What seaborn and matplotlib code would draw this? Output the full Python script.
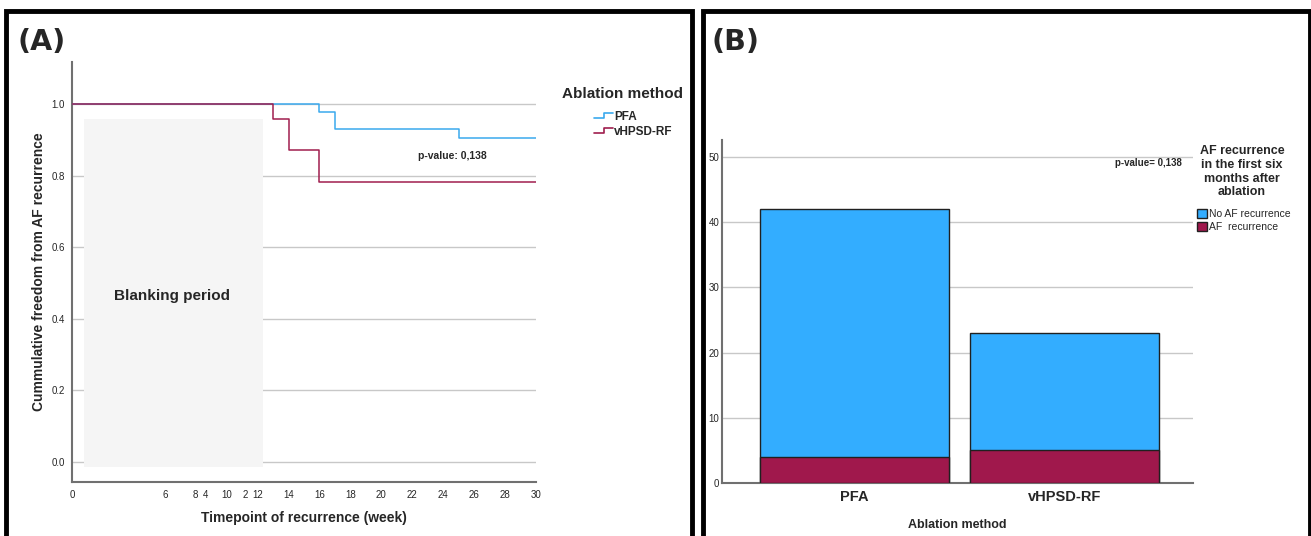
import matplotlib

matplotlib.use("Agg")

import matplotlib.pyplot as plt
import pandas as pd
import seaborn as sns
from matplotlib.legend_handler import HandlerBase
from matplotlib.lines import Line2D
from matplotlib.patches import Patch, Rectangle

# Panel A: Kaplan-Meier style freedom from AF recurrence
PFA_WEEKS = [0, 16, 17, 25, 30]
PFA_SURV = [1.0, 0.976, 0.929, 0.905, 0.905]
RF_WEEKS = [0, 13, 14, 16, 30]
RF_SURV = [1.0, 0.957, 0.870, 0.783, 0.783]
X_TICKS = [0, 6, 8, 8.6, 10, 11.2, 12, 14, 16, 18, 20, 22, 24, 26, 28, 30]
X_TICK_LABELS = ["0", "6", "8", "4", "10", "2", "12", "14", "16", "18",
                 "20", "22", "24", "26", "28", "30"]
Y_TICKS = [0.0, 0.2, 0.4, 0.6, 0.8, 1.0]

# Panel B: counts per ablation method
METHODS = ["PFA", "vHPSD-RF"]
NO_RECURRENCE = [38, 18]
RECURRENCE = [4, 5]
B_TICKS = [0, 10, 20, 30, 40, 50]

BLUE_LINE = "#3aa9ee"
RED_LINE = "#a01e4e"
BLUE_BAR = "#33adff"
RED_BAR = "#a0184c"
GRID = "#c8c8c8"
SPINE = "#707070"

sns.set_style("white")
plt.rcParams["font.family"] = ["Liberation Sans", "DejaVu Sans"]

W, H = 1311, 536


class StepHandler(HandlerBase):
    def create_artists(self, legend, orig_handle, xdescent, ydescent,
                       width, height, fontsize, trans):
        x0, w, h = -xdescent, width, height
        line = Line2D(
            [x0, x0 + w * 0.55, x0 + w * 0.55, x0 + w],
            [h * 0.2, h * 0.2, h * 0.85, h * 0.85],
            color=orig_handle.get_color(), lw=1.2,
        )
        line.set_transform(trans)
        return [line]


def fx(px):
    return px / W


def fy(py):
    return 1 - py / H


fig = plt.figure(figsize=(W / 100, H / 100), dpi=100)

# panel frames
for x0, x1 in [(6, 692), (703, 1310)]:
    fig.patches.append(Rectangle(
        (fx(x0), -0.05), fx(x1 - x0), 1.05 - 11 / H,
        transform=fig.transFigure, fill=False, lw=3.5, edgecolor="black",
    ))

# ---------------- Panel A ----------------
ax1 = fig.add_axes([fx(72), fy(482), fx(536 - 72), (482 - 62) / H])
km = pd.concat([
    pd.DataFrame({"week": PFA_WEEKS, "surv": PFA_SURV, "method": "PFA"}),
    pd.DataFrame({"week": RF_WEEKS, "surv": RF_SURV, "method": "vHPSD-RF"}),
])
for y in Y_TICKS:
    ax1.axhline(y, color=GRID, lw=1, zorder=0)
ax1.add_patch(Rectangle((0.78, -0.014), 11.57, 0.972, color="#f5f5f5", lw=0, zorder=0.5))
ax1.text(6.45, 0.464, "Blanking period", ha="center", va="center",
         fontsize=11, fontweight="bold")
sns.lineplot(data=km, x="week", y="surv", hue="method",
             palette={"PFA": BLUE_LINE, "vHPSD-RF": RED_LINE},
             drawstyle="steps-post", lw=1.1, ax=ax1, legend=False, zorder=3)
ax1.text(24.6, 0.855, "p-value: 0,138", ha="center", va="center",
         fontsize=7.5, fontweight="bold")
ax1.set_xlim(0, 30)
ax1.set_ylim(-0.056, 1.117)
ax1.set_xticks(X_TICKS)
ax1.set_xticklabels(X_TICK_LABELS, fontsize=7)
ax1.set_yticks(Y_TICKS)
ax1.set_yticklabels([f"{v:.1f}" for v in Y_TICKS], fontsize=7)
ax1.tick_params(axis="y", length=0, pad=5)
ax1.tick_params(axis="x", length=0, pad=6)
ax1.set_xlabel("Timepoint of recurrence (week)", fontsize=10, fontweight="bold", labelpad=8)
ax1.set_ylabel("Cummulative freedom from AF recurrence", fontsize=10,
               fontweight="bold", labelpad=4)
for side in ["top", "right"]:
    ax1.spines[side].set_visible(False)
for side in ["left", "bottom"]:
    ax1.spines[side].set_color(SPINE)
    ax1.spines[side].set_linewidth(1.5)

fig.text(fx(562), fy(94), "Ablation method", fontsize=11, fontweight="bold",
         ha="left", va="center")
handles = [Line2D([], [], color=BLUE_LINE), Line2D([], [], color=RED_LINE)]
ax1.legend(handles, ["PFA", "vHPSD-RF"],
           handler_map={Line2D: StepHandler()},
           loc="upper left", bbox_to_anchor=(fx(588), fy(105)),
           bbox_transform=fig.transFigure, frameon=False, borderpad=0,
           prop={"size": 8.5, "weight": "bold"}, handlelength=1.6,
           handletextpad=0.1, labelspacing=0.25)

# ---------------- Panel B ----------------
ax2 = fig.add_axes([fx(722), fy(483), fx(1193 - 722), (483 - 140) / H])
for y in B_TICKS[1:]:
    ax2.axhline(y, color=GRID, lw=1, zorder=0)
totals = pd.DataFrame({
    "method": METHODS,
    "total": [a + b for a, b in zip(NO_RECURRENCE, RECURRENCE)],
    "recur": RECURRENCE,
})
sns.barplot(data=totals, x="method", y="total", color=BLUE_BAR, width=0.9,
            edgecolor="#202020", linewidth=1, saturation=1, ax=ax2, zorder=2)
sns.barplot(data=totals, x="method", y="recur", color=RED_BAR, width=0.9,
            edgecolor="#202020", linewidth=1, saturation=1, ax=ax2, zorder=3)
ax2.text(1.4, 49.0, "p-value= 0,138", ha="center", va="center",
         fontsize=7, fontweight="bold")
ax2.set_xlim(-0.63, 1.61)
ax2.set_ylim(0, 52.6)
ax2.set_yticks(B_TICKS)
ax2.set_yticklabels([str(v) for v in B_TICKS], fontsize=7)
ax2.set_xticks([0, 1])
ax2.set_xticklabels(METHODS, fontsize=10.5, fontweight="bold")
ax2.tick_params(axis="y", length=0, pad=2)
ax2.tick_params(axis="x", length=0, pad=5)
ax2.set_xlabel("Ablation method", fontsize=9, fontweight="bold", labelpad=11)
ax2.set_ylabel("")
for side in ["top", "right"]:
    ax2.spines[side].set_visible(False)
for side in ["left", "bottom"]:
    ax2.spines[side].set_color(SPINE)
    ax2.spines[side].set_linewidth(1.5)

fig.text(fx(1242), fy(145), "AF recurrence\nin the first six\nmonths after\nablation",
         fontsize=9, fontweight="bold", ha="center", va="top",
         multialignment="center", linespacing=1.2)
bar_handles = [Patch(facecolor=BLUE_BAR, edgecolor="#202020"),
               Patch(facecolor=RED_BAR, edgecolor="#202020")]
ax2.legend(bar_handles, ["No AF recurrence", "AF  recurrence"],
           loc="upper left", bbox_to_anchor=(fx(1192), fy(204)),
           bbox_transform=fig.transFigure, frameon=False, borderpad=0,
           prop={"size": 7.5}, handlelength=0.9, handleheight=0.9,
           handletextpad=0.2, labelspacing=0.25)

fig.text(fx(18), fy(42), "(A)", fontsize=20.5, fontweight="bold",
         family="DejaVu Sans", va="center")
fig.text(fx(711), fy(42), "(B)", fontsize=20.5, fontweight="bold",
         family="DejaVu Sans", va="center")

fig.savefig("out.png", dpi=100)
